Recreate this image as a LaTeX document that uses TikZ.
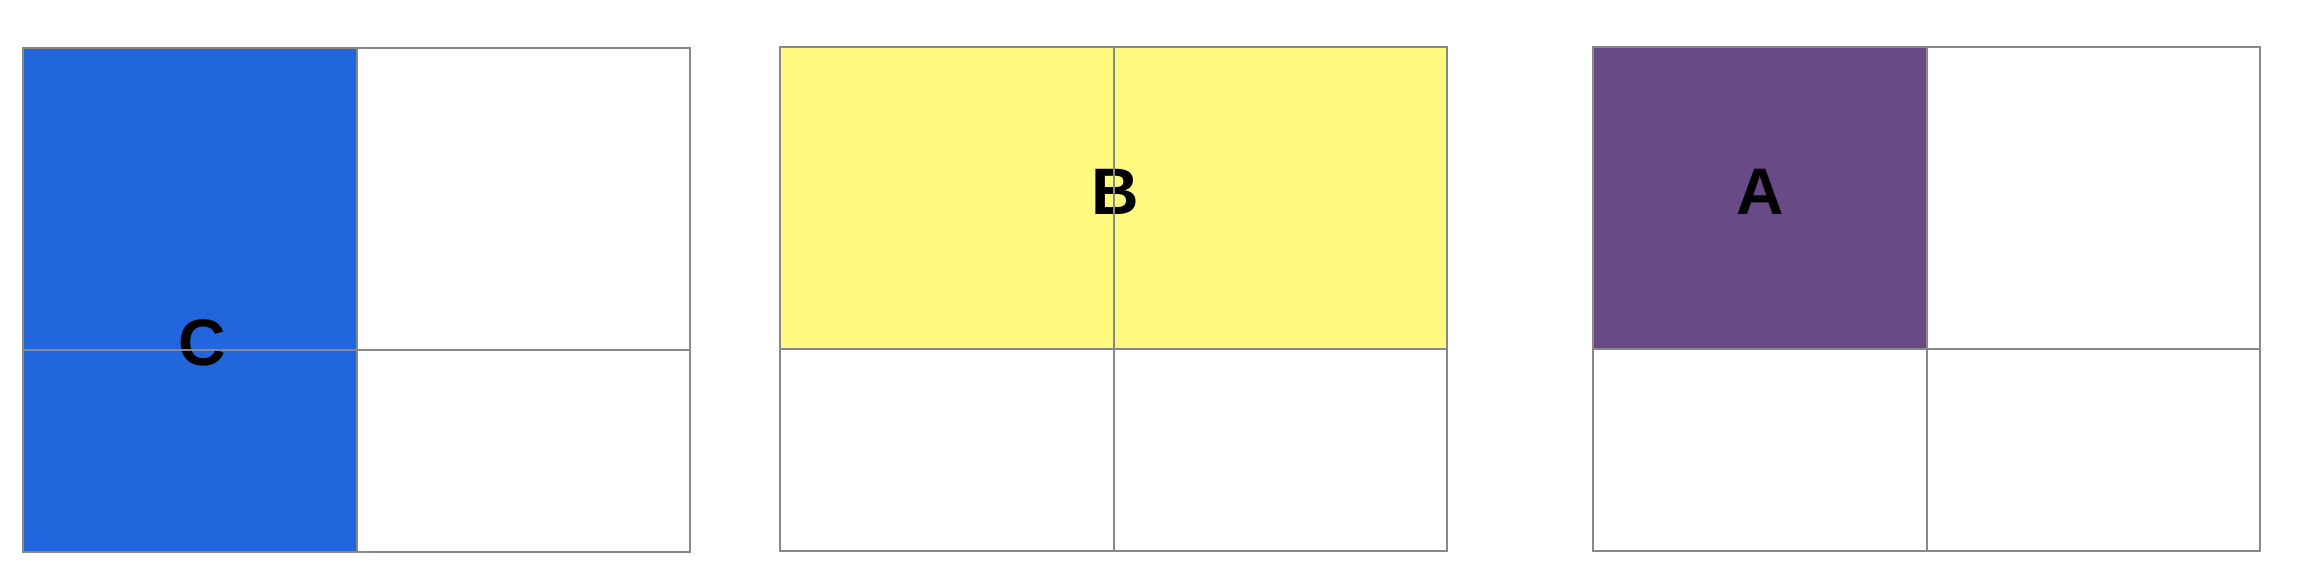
\documentclass[tikz,border=0pt]{standalone}
\usepackage{fontspec}
\setmainfont{Liberation Sans}
\usepackage{xcolor}
\usetikzlibrary{positioning}
\definecolor{cellblue}{HTML}{2266DD}
\definecolor{cellyellow}{HTML}{FEF97F}
\definecolor{cellpurple}{HTML}{684A87}
\definecolor{gridgray}{HTML}{888888}
\tikzset{
  gridline/.style={draw=gridgray, line width=0.6pt},
  lbl/.style={font=\fontsize{18.7}{20}\selectfont\bfseries, inner sep=0pt, text=black},
}

\begin{document}
\begin{tikzpicture}[x=0.01cm, y=-0.01cm]
  \useasboundingbox (0,0) rectangle (2314,584);
  % filled cells
  \fill[cellblue] (23,48) rectangle (357,552);
  \fill[cellyellow] (780,47) rectangle (1446,348);
  \fill[cellpurple] (1593,47) rectangle (1926,348);
  % labels
  \node[lbl] (labC) at (202,343) {C};
  \node[lbl] (labB) at (1115,192) {B};
  \node[lbl] (labA) at (1760,192) {A};
  % 2x2 grids
  \foreach \xo/\yo in {23/48, 780/47, 1593/47} {
    \draw[gridline] (\xo,\yo) rectangle ++(667,504);
    \draw[gridline] (\xo+334,\yo) -- ++(0,504);
    \draw[gridline] (\xo,\yo+302) -- ++(667,0);
  }
\end{tikzpicture}
\end{document}
